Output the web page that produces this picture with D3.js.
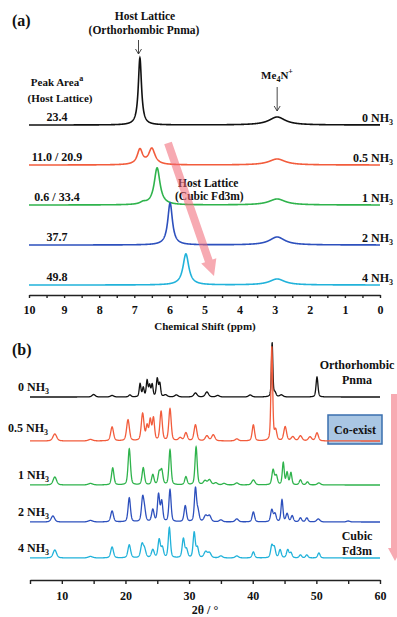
<!DOCTYPE html>
<html>
<head>
<meta charset="utf-8">
<script src="https://cdn.jsdelivr.net/npm/d3@7"></script>
<style>
  body { margin: 0; background: #fff; }
  svg { display: block; }
  text { font-family: "Liberation Serif", "Times New Roman", serif; font-weight: bold; fill: #111; }
</style>
</head>
<body>
<svg id="chart" width="397" height="617"></svg>
<script>
// ---- data ----
const loadings = ['0', '0.5', '1', '2', '4'];
const colors = ['#111111', '#f25c3c', '#2fb34c', '#2d50bd', '#21b2da'];
const peakAreas = ['23.4', '11.0 / 20.9', '0.6 / 33.4', '37.7', '49.8'];
const nmrTicks = d3.range(0, 10.01, 0.5);
const xrdTicks = d3.range(5, 60.01, 5);

// stacking offsets (intensity units)
const nmrOffsets = [160, 120, 80, 40, 0];
const xrdOffsets = [161, 117, 73, 36, 0];

// 1H NMR peaks: [ppm, height, half width]
const nmrPeaks = [
  [[6.84, 67, 0.055], [2.93, 8, 0.28]],
  [[6.84, 15, 0.09], [6.50, 16, 0.11], [2.93, 6, 0.28]],
  [[6.75, 2, 0.1], [6.35, 37, 0.1], [2.93, 6, 0.28]],
  [[5.98, 42, 0.08], [2.93, 8, 0.26]],
  [[5.53, 31, 0.1], [2.93, 6, 0.26]]
];

// XRD peaks: [2theta, height, half width]
const xrdPeaks = [
  [[15.0, 2.5, 0.3], [17.9, 1.5, 0.3], [20.7, 2, 0.22], [22.3, 13, 0.16], [22.8, 9, 0.16],
   [23.4, 16, 0.16], [23.8, 11, 0.16], [24.2, 12, 0.16], [25.0, 18, 0.18], [25.4, 13, 0.16],
   [26.3, 2, 0.3], [28.0, 2, 0.3], [31.0, 4, 0.3], [32.8, 5, 0.3], [34.5, 1.5, 0.3],
   [39.6, 2, 0.3], [43.05, 54, 0.13], [43.5, 4, 0.2], [44.5, 2, 0.3], [50.1, 20, 0.18]],
  [[8.9, 7, 0.35], [14.5, 1.5, 0.4], [17.9, 14, 0.26], [20.4, 21, 0.26], [22.7, 27, 0.25],
   [23.4, 14, 0.2], [23.9, 20, 0.2], [24.4, 22, 0.2], [25.6, 29, 0.22], [27.0, 32, 0.22],
   [28.6, 3, 0.3], [29.5, 8, 0.26], [31.0, 16, 0.26], [32.8, 5, 0.3], [33.8, 6, 0.3],
   [37.5, 2, 0.3], [40.1, 16, 0.22], [43.0, 94, 0.16], [43.6, 10, 0.22], [45.1, 14, 0.26],
   [46.3, 4, 0.3], [47.5, 5, 0.3], [49.0, 4, 0.3], [50.1, 8, 0.26]],
  [[8.9, 8, 0.32], [14.5, 1.5, 0.4], [18.0, 17, 0.22], [20.6, 36, 0.22], [22.8, 17, 0.22],
   [24.3, 10, 0.22], [25.3, 12, 0.22], [25.7, 14, 0.22], [27.0, 35, 0.2], [29.5, 8, 0.22],
   [31.1, 38, 0.2], [32.5, 4, 0.3], [33.2, 5, 0.3], [34.2, 2, 0.3], [35.5, 1.5, 0.3],
   [37.5, 2, 0.3], [40.1, 5, 0.3], [43.2, 15, 0.22], [43.7, 9, 0.22], [44.8, 22, 0.18],
   [45.4, 12, 0.18], [46.0, 12, 0.18], [47.5, 5, 0.22], [48.6, 3, 0.22], [50.4, 2, 0.3]],
  [[8.6, 6, 0.32], [14.5, 1.5, 0.4], [17.9, 11, 0.25], [20.6, 24, 0.22], [22.7, 23, 0.22],
   [23.0, 10, 0.22], [24.3, 12, 0.22], [25.2, 27, 0.2], [25.7, 20, 0.2], [27.0, 32, 0.2],
   [29.4, 16, 0.22], [31.0, 33, 0.2], [31.4, 10, 0.22], [32.6, 6, 0.3], [33.2, 6, 0.3],
   [35.0, 2, 0.3], [37.5, 3, 0.3], [40.1, 10, 0.22], [43.0, 12, 0.22], [43.5, 8, 0.22],
   [44.6, 22, 0.18], [45.4, 8, 0.22], [46.2, 6, 0.22], [47.5, 4, 0.22], [48.5, 4, 0.22],
   [50.3, 3, 0.3], [55.0, 1, 0.3]],
  [[8.9, 8, 0.32], [14.5, 1.5, 0.4], [17.9, 11, 0.25], [20.6, 13, 0.25], [22.6, 13, 0.25],
   [23.0, 8, 0.25], [24.3, 8, 0.25], [25.3, 18, 0.22], [25.8, 10, 0.22], [26.9, 30, 0.2],
   [29.1, 19, 0.22], [29.6, 8, 0.22], [30.8, 25, 0.2], [31.3, 10, 0.22], [32.6, 6, 0.3],
   [33.2, 5, 0.3], [35.0, 2, 0.3], [37.5, 2, 0.3], [40.1, 6, 0.22], [43.0, 12, 0.22],
   [43.4, 10, 0.22], [44.3, 8, 0.22], [45.5, 8, 0.22], [46.0, 5, 0.22], [47.5, 3, 0.22],
   [48.5, 3, 0.22], [50.4, 5, 0.22]]
];

// ---- helpers ----
function lorentz(x, p) { const t = (x - p[0]) / p[2]; return p[1] / (1 + t * t); }
function pvoigt(x, p) {
  const t = (x - p[0]) / p[2];
  return p[1] * (0.4 / (1 + t * t) + 0.6 * Math.exp(-Math.LN2 * t * t));
}
function spectrum(peaks, lo, hi, step, shape) {
  return d3.range(lo, hi + step / 2, step).map(x => [x, d3.sum(peaks, p => shape(x, p))]);
}

const svg = d3.select('#chart');

function label(g, x, y, parts, anchor, size) {
  const t = g.append('text').attr('x', x).attr('y', y)
    .attr('text-anchor', anchor || 'start').style('font-size', (size || 12) + 'px');
  parts.forEach(p => {
    const s = t.append('tspan').text(p.t);
    if (p.sub) s.style('font-size', '8px').attr('dy', 3);
    if (p.sup) s.style('font-size', '8px').attr('dy', -5);
    if (p.back) s.attr('dy', p.back);
  });
  return t;
}
const nh3 = n => [{ t: n + ' NH' }, { t: '3', sub: true }];

function pinkArrow(x0, y0, x1, y1, hw, headW, headL) {
  const dx = x1 - x0, dy = y1 - y0, L = Math.hypot(dx, dy);
  const ux = dx / L, uy = dy / L, nx = -uy, ny = ux;
  const bx = x1 - ux * headL, by = y1 - uy * headL;
  const pts = [
    [x0 + nx * hw, y0 + ny * hw], [bx + nx * hw, by + ny * hw], [bx + nx * headW, by + ny * headW],
    [x1, y1], [bx - nx * headW, by - ny * headW], [bx - nx * hw, by - ny * hw], [x0 - nx * hw, y0 - ny * hw]
  ];
  svg.append('path').attr('d', 'M' + pts.join('L') + 'Z')
    .attr('fill', 'rgba(240,100,115,0.55)');
}

// ---- panel (a): NMR ----
const xa = d3.scaleLinear().domain([10, 0]).range([29, 380]);
const ya = d3.scaleLinear().domain([-10, 240]).range([295, 45]);
const ga = svg.append('g');
const lineA = d3.line().x(d => xa(d[0])).y(d => ya(d[1]));

pinkArrow(168, 143, 214, 276, 4, 8, 16);

nmrPeaks.forEach((peaks, i) => {
  const data = spectrum(peaks, 0, 10, 0.005, lorentz).map(d => [d[0], d[1] + nmrOffsets[i]]);
  ga.append('path').datum(data).attr('d', lineA)
    .attr('fill', 'none').attr('stroke', colors[i]).attr('stroke-width', 1.6);
  label(ga, 57, ya(nmrOffsets[i]) - 4, [{ t: peakAreas[i] }], 'middle', 12);
  label(ga, 393, ya(nmrOffsets[i]) - 3, nh3(loadings[i]), 'end', 12);
});

const axA = ga.append('g').attr('transform', `translate(0,${ya(-10)})`)
  .call(d3.axisBottom(xa).tickValues(nmrTicks).tickSize(3).tickSizeOuter(0)
    .tickFormat(d => Number.isInteger(d) ? d : ''));
axA.selectAll('path,line').attr('stroke', '#222').attr('stroke-width', 1.4);
axA.selectAll('text').style('font-size', '12px').attr('dy', '1.05em');
axA.attr('font-family', null);

label(ga, 205, 330, [{ t: 'Chemical Shift (ppm)' }], 'middle', 11);
label(ga, 12, 26, [{ t: '(a)' }], 'start', 16);
label(ga, 145, 20, [{ t: 'Host Lattice' }], 'middle', 11.5);
label(ga, 144, 34, [{ t: '(Orthorhombic Pnma)' }], 'middle', 11.5);
label(ga, 57, 86, [{ t: 'Peak Area' }, { t: 'a', sup: true }], 'middle', 11);
label(ga, 60, 102, [{ t: '(Host Lattice)' }], 'middle', 11);
label(ga, 277, 79, [{ t: 'Me' }, { t: '4', sub: true }, { t: 'N', back: -3 }, { t: '+', sup: true }], 'middle', 11);
label(ga, 178, 187, [{ t: 'Host Lattice' }], 'start', 11.5);
label(ga, 175, 200, [{ t: '(Cubic Fd3m)' }], 'start', 11.5);

// small arrows
const arrows = [[xa(6.88), 40, 54], [xa(2.93), 87, 111]];
arrows.forEach(a => {
  ga.append('line').attr('x1', a[0]).attr('x2', a[0]).attr('y1', a[1]).attr('y2', a[2])
    .attr('stroke', '#333').attr('stroke-width', 0.9);
  ga.append('path').attr('d', `M${a[0] - 3},${a[2] - 5}L${a[0]},${a[2]}L${a[0] + 3},${a[2] - 5}`)
    .attr('fill', 'none').attr('stroke', '#333').attr('stroke-width', 0.9);
});

// ---- panel (b): XRD ----
const xb = d3.scaleLinear().domain([5, 60]).range([30, 380]);
const yb = d3.scaleLinear().domain([-22, 200]).range([580, 358]);
const gb = svg.append('g');
const lineB = d3.line().x(d => xb(d[0])).y(d => yb(d[1]));

gb.append('rect').attr('x', 328).attr('y', 415).attr('width', 54).attr('height', 29)
  .attr('fill', '#a9c6e3').attr('stroke', '#3a6fae').attr('stroke-width', 1.5);
label(gb, 355, 434, [{ t: 'Co-exist' }], 'middle', 12);

pinkArrow(395, 394, 395, 561, 4, 7, 13);

const xrdLabelY = [391, 432, 479, 516, 552];
const xrdLabelX = [18, 8, 18, 18, 18];
xrdPeaks.forEach((peaks, i) => {
  const data = spectrum(peaks, 5, 60, 0.02, pvoigt).map(d => [d[0], d[1] + xrdOffsets[i]]);
  gb.append('path').datum(data).attr('d', lineB)
    .attr('fill', 'none').attr('stroke', colors[i]).attr('stroke-width', 1.3);
  label(gb, xrdLabelX[i], xrdLabelY[i], nh3(loadings[i]), 'start', 12);
});

const axB = gb.append('g').attr('transform', `translate(0,${yb(-22)})`)
  .call(d3.axisBottom(xb).tickValues(xrdTicks).tickSize(4).tickSizeOuter(0)
    .tickFormat(d => d % 10 === 0 ? d : ''));
axB.selectAll('path,line').attr('stroke', '#222').attr('stroke-width', 1.4);
axB.selectAll('text').style('font-size', '12px').attr('dy', '1.05em');
axB.attr('font-family', null);

label(gb, 12, 355, [{ t: '(b)' }], 'start', 16);
label(gb, 357, 369, [{ t: 'Orthorhombic' }], 'middle', 12);
label(gb, 357, 384, [{ t: 'Pnma' }], 'middle', 12);
label(gb, 357, 540, [{ t: 'Cubic' }], 'middle', 12);
label(gb, 357, 555, [{ t: 'Fd3m' }], 'middle', 12);
label(gb, 205, 614, [{ t: '2θ / °' }], 'middle', 12);
</script>
</body>
</html>
